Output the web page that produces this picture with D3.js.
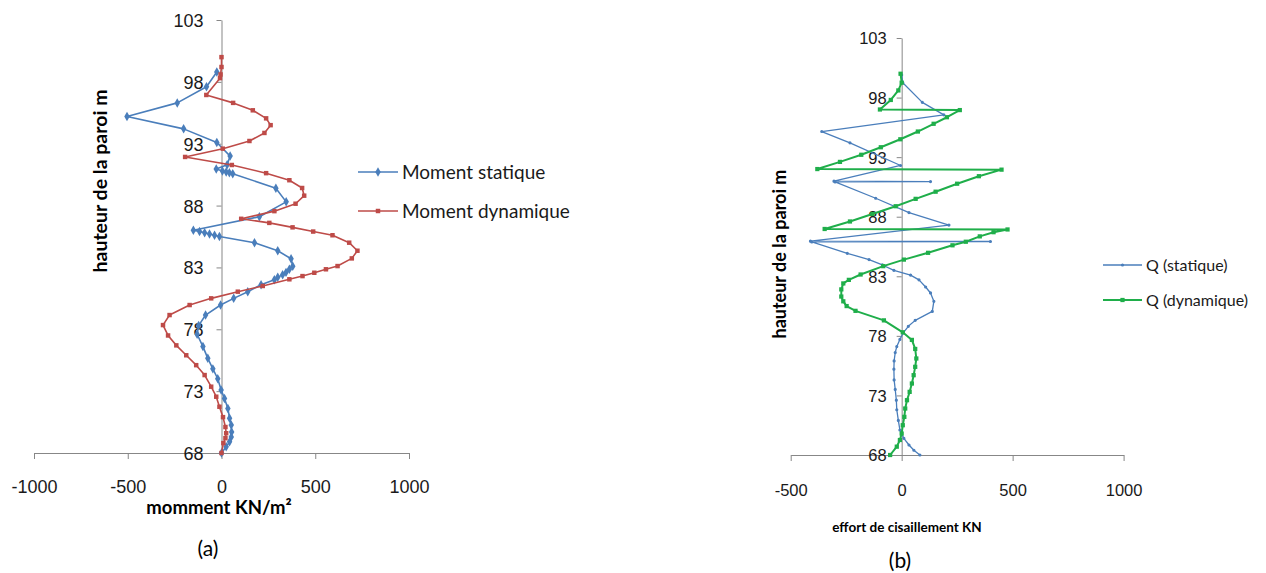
<!DOCTYPE html>
<html>
<head>
<meta charset="utf-8">
<script src="https://cdn.jsdelivr.net/npm/d3@7"></script>
<style>
  body { margin: 0; background: #fff; }
  svg { font-family: Lato, 'Open Sans', sans-serif; }
  .axis path, .axis line { stroke: #878787; }
  .axis text { fill: #1a1a1a; }
</style>
</head>
<body>
<svg id="chart" width="1266" height="573"></svg>
<script>
'use strict';

// [hauteur m, valeur]
const momentStatique = [
  [98.8, -25], [97.6, -80], [96.3, -236], [95.2, -504], [94.2, -202], [93.1, -25],
  [92.0, 46], [91.3, 30], [90.95, -28], [90.8, 5], [90.72, 25], [90.65, 42], [90.58, 60],
  [89.4, 290], [88.3, 345], [87.1, 202], [86.0, -150], [85.9, -117], [85.8, -90],
  [85.7, -64], [85.6, -37], [85.5, -11], [85.0, 176], [84.35, 300], [83.7, 371],
  [83.1, 380], [82.85, 362], [82.6, 344], [82.4, 326], [82.2, 300], [82.0, 282],
  [81.6, 211], [81.04, 140], [80.5, 65], [79.96, -5], [79.15, -85], [78.3, -122],
  [77.6, -130], [76.6, -99], [75.65, -73], [74.8, -46], [74.0, -20], [73.1, -2],
  [72.4, 16], [71.6, 34], [70.8, 43], [70.26, 52], [69.7, 54], [69.3, 52], [68.9, 43],
  [68.5, 25], [68.0, 0]
];
const momentDynamique = [
  [100.0, 0], [99.2, 0], [98.6, -5], [98.3, -8], [96.94, -81], [96.3, 62], [95.7, 167],
  [95.05, 238], [94.5, 262], [93.87, 229], [93.22, 149], [92.6, 7], [91.93, -194],
  [91.28, 55], [90.62, 238], [90.05, 362], [89.42, 430], [88.8, 441], [88.15, 395],
  [87.55, 282], [86.93, 105], [86.6, 255], [86.24, 379], [85.9, 489], [85.6, 592],
  [85.0, 681], [84.35, 725], [83.73, 695], [83.11, 619], [82.85, 557], [82.57, 495],
  [82.3, 432], [82.04, 362], [81.5, 220], [81.04, 87], [80.5, -55], [79.96, -170],
  [79.15, -277], [78.34, -312], [77.5, -285], [76.7, -241], [75.9, -188], [75.1, -135],
  [74.3, -90], [73.36, -55], [72.55, -28], [71.74, -11], [70.9, 8], [70.1, 21],
  [69.6, 25], [69.2, 21], [68.8, 10], [68.0, 0]
];
const qStatique = [
  [99.9, 0], [99.25, 5], [97.6, 93], [96.55, 190], [95.15, -360], [94.2, -233],
  [92.3, -5], [90.98, -305], [90.95, 130], [90.92, -300], [89.55, -117], [88.35, 33],
  [87.3, 213], [85.95, -411], [85.92, 400], [85.88, -405], [84.93, -245], [84.4, -147],
  [83.95, -87], [83.5, -35], [83.1, 40], [82.7, 78], [82.1, 108], [81.6, 130],
  [80.9, 145], [80.05, 138], [79.3, 61], [78.8, 30], [78.25, 7], [77.7, -8], [77.1, -22],
  [76.6, -29], [75.9, -34], [75.2, -35], [74.3, -34], [73.5, -29], [72.6, -24],
  [71.8, -22], [70.9, -15], [70.1, -8], [69.4, 10], [68.84, 33], [68.4, 55], [68.0, 82]
];
const qDynamique = [
  [100.0, -5], [99.25, 0], [98.6, -15], [97.8, -49], [97.0, -98], [96.95, 262],
  [96.35, 204], [95.8, 144], [95.15, 73], [94.5, -6], [93.83, -94], [93.2, -182],
  [92.6, -278], [92.0, -380], [91.95, 450], [91.4, 348], [90.77, 250], [90.1, 153],
  [89.5, 63], [88.88, -27], [88.23, -132], [87.6, -233], [86.97, -347], [86.93, 477],
  [86.7, 414], [86.35, 352], [85.9, 289], [85.6, 229], [84.97, 119], [84.4, 10],
  [83.85, -83], [83.15, -185], [82.7, -238], [82.4, -263], [81.9, -272], [81.3, -272],
  [80.9, -263], [80.5, -248], [80.1, -208], [79.3, -80], [78.3, 5], [77.66, 46],
  [76.9, 61], [76.1, 66], [75.4, 61], [74.7, 54], [74.0, 46], [73.3, 36], [72.6, 24],
  [71.9, 16], [71.2, 12], [70.5, 5], [69.8, 0], [69.26, -8], [68.7, -22], [68.0, -52]
];

const heightTicks = [68, 73, 78, 83, 88, 93, 98, 103];
const momentTicks = [-1000, -500, 0, 500, 1000];
const effortTicks = [-500, 0, 500, 1000];

const svg = d3.select('#chart');

function drawPanel(cfg) {
  const x = d3.scaleLinear().domain(cfg.xDomain).range(cfg.xRange);
  const y = d3.scaleLinear().domain([68, 103]).range(cfg.yRange);
  const g = svg.append('g');

  const xAxis = g.append('g').attr('class', 'axis')
    .attr('transform', `translate(0,${y(68)})`)
    .call(d3.axisBottom(x).tickValues(cfg.xTicks).tickSize(6).tickSizeOuter(0)
      .tickPadding(cfg.xPad).tickFormat(d => String(d)));
  xAxis.selectAll('text').style('font-size', cfg.tickFont + 'px');

  const yAxis = g.append('g').attr('class', 'axis')
    .attr('transform', `translate(${x(0)},0)`)
    .call(d3.axisLeft(y).tickValues(heightTicks).tickSize(5).tickSizeOuter(0)
      .tickPadding(cfg.yPad));
  yAxis.selectAll('text').style('font-size', cfg.tickFont + 'px')
    .attr('dy', '0.36em');

  const line = d3.line().x(d => x(d[1])).y(d => y(d[0]));

  cfg.series.forEach(s => {
    g.append('path').datum(s.data)
      .attr('fill', 'none').attr('stroke', s.color)
      .attr('stroke-width', s.width).attr('stroke-linejoin', 'round')
      .attr('d', line);
    const sym = d3.symbol().type(s.shape).size(s.size);
    g.append('g').selectAll('path').data(s.data).join('path')
      .attr('transform', d => `translate(${x(d[1])},${y(d[0])})`)
      .attr('d', sym).attr('fill', s.color);
  });

  // legend
  cfg.series.forEach((s, i) => {
    const ly = cfg.legend.y + i * cfg.legend.gap;
    g.append('line')
      .attr('x1', cfg.legend.x).attr('x2', cfg.legend.x + cfg.legend.len)
      .attr('y1', ly).attr('y2', ly)
      .attr('stroke', s.color).attr('stroke-width', s.width);
    g.append('path')
      .attr('transform', `translate(${cfg.legend.x + cfg.legend.len / 2},${ly})`)
      .attr('d', d3.symbol().type(s.shape).size(s.size)()).attr('fill', s.color);
    g.append('text')
      .attr('x', cfg.legend.x + cfg.legend.len + 4).attr('y', ly)
      .attr('dy', '0.35em').style('font-size', cfg.legend.font + 'px')
      .attr('fill', '#1a1a1a').text(s.name);
  });

  g.append('text')
    .attr('transform', `translate(${cfg.yTitle.x},${cfg.yTitle.y}) rotate(-90)`)
    .attr('text-anchor', 'middle').attr('dy', '0.35em')
    .style('font-size', cfg.yTitle.font + 'px').style('font-weight', 'bold')
    .text('hauteur de la paroi m');

  g.append('text')
    .attr('x', cfg.xTitle.x).attr('y', cfg.xTitle.y)
    .attr('text-anchor', 'middle').attr('dy', '0.35em')
    .style('font-size', cfg.xTitle.font + 'px').style('font-weight', 'bold')
    .text(cfg.xTitle.text);

  g.append('text')
    .attr('x', cfg.caption.x).attr('y', cfg.caption.y)
    .attr('text-anchor', 'middle').attr('dy', '0.35em')
    .style('font-size', '21px').text(cfg.caption.text);
}

drawPanel({
  xDomain: [-1000, 1000], xRange: [34, 409], yRange: [453, 20],
  xTicks: momentTicks, xPad: 21, yPad: 13, tickFont: 18,
  series: [
    { name: 'Moment statique', data: momentStatique, color: '#4a7ebb', width: 1.6, shape: d3.symbolDiamond, size: 26 },
    { name: 'Moment dynamique', data: momentDynamique, color: '#be4b48', width: 1.6, shape: d3.symbolSquare, size: 20 }
  ],
  legend: { x: 358, y: 172, gap: 39, len: 40, font: 19 },
  yTitle: { x: 100, y: 181, font: 19.5 },
  xTitle: { x: 219, y: 508, font: 18.5, text: 'momment KN/m²' },
  caption: { x: 208, y: 549, text: '(a)' }
});

drawPanel({
  xDomain: [-500, 1000], xRange: [790.7, 1123.6], yRange: [455, 38],
  xTicks: effortTicks, xPad: 23, yPad: 10, tickFont: 16.5,
  series: [
    { name: 'Q (statique)', data: qStatique, color: '#4a7ebb', width: 1.3, shape: d3.symbolCircle, size: 8 },
    { name: 'Q (dynamique)', data: qDynamique, color: '#1fae4a', width: 2, shape: d3.symbolSquare, size: 18 }
  ],
  legend: { x: 1103, y: 265, gap: 35, len: 39, font: 16 },
  yTitle: { x: 780, y: 254, font: 18 },
  xTitle: { x: 907, y: 527, font: 13.5, text: 'effort de cisaillement KN' },
  caption: { x: 900, y: 561, text: '(b)' }
});
</script>
</body>
</html>
